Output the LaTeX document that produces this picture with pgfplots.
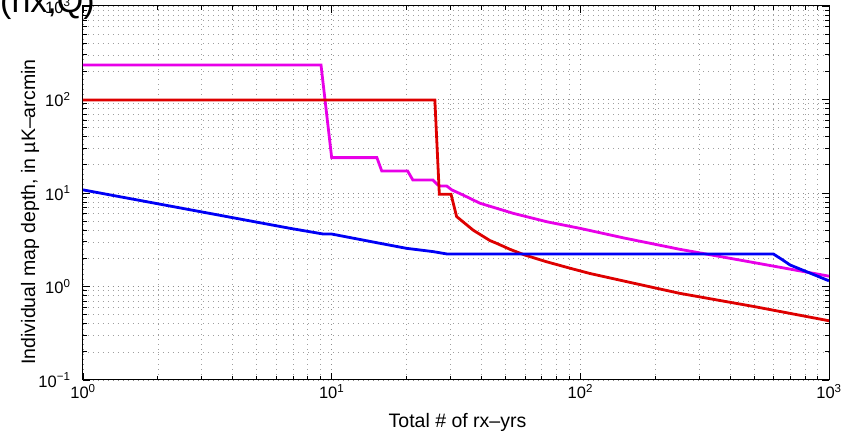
\documentclass[border=0pt]{standalone}
\usepackage{pgfplots}
\pgfplotsset{compat=1.18}
\usepackage{fontspec}
\setmainfont{Liberation Sans}
\definecolor{mymag}{RGB}{232,0,232}
\definecolor{myred}{RGB}{222,0,0}
\definecolor{myblue}{RGB}{0,0,245}
\begin{document}
\begin{tikzpicture}[x=1pt,y=1pt]
\begin{axis}[
  at={(0,0)}, anchor=south west,
  scale only axis, width=746pt, height=374pt,
  xmode=log, ymode=log,
  xmin=1, xmax=1000, ymin=0.1, ymax=1000,
  xtick={1,10,100,1000},
  xticklabels={10\textsuperscript{0},10\textsuperscript{1},10\textsuperscript{2},10\textsuperscript{3}},
  ytick={0.1,1,10,100,1000},
  yticklabels={10\textsuperscript{−1},10\textsuperscript{0},10\textsuperscript{1},10\textsuperscript{2},10\textsuperscript{3}},
  tick label style={font=\fontsize{16.5}{18}\selectfont},
  yticklabel style={xshift=-9pt},
  xticklabel style={yshift=-1pt},
  grid=both,
  major grid style={gray!90, line width=0.7pt, dash pattern=on 0.7pt off 4.3pt},
  minor grid style={gray!75, line width=0.7pt, dash pattern=on 0.7pt off 4.3pt},
  tick align=inside,
  major tick length=7pt, minor tick length=4pt,
  axis line style={line width=1pt},
  every tick/.style={black, line width=0.8pt},
]
\addplot[mymag, line width=2.8pt] coordinates {
(1,234) (9.06,234) (10,23.9) (15.2,23.9) (15.9,17.2) (20.2,17.2) (21.2,13.8) (25.5,13.8)
(27,11.9) (29,11.9) (30.4,10.8) (33.8,9.5) (39.5,7.77) (53.6,6.07) (73.2,4.93) (99.6,4.19)
(150,3.3) (251,2.5) (500,1.8) (1000,1.29)};
\addplot[myred, line width=2.8pt] coordinates {
(1,99) (26,99) (27.1,9.7) (30.2,9.7) (31.8,5.6) (33.8,4.9) (37.1,4.0) (43.3,3.1) (46,2.9)
(52.1,2.5) (59.8,2.17) (73.1,1.84) (90.8,1.57) (109,1.38) (160,1.1) (251,0.845) (500,0.61) (1000,0.43)};
\addplot[myblue, line width=2.8pt] coordinates {
(1,10.8) (6.8,4.19) (9.25,3.64) (10,3.64) (15.6,2.9) (20,2.56) (25.6,2.36) (29,2.23)
(597,2.23) (650,1.93) (697,1.70) (1000,1.15)};
\end{axis}
\node[anchor=base, font=\fontsize{19.5}{22}\selectfont] at (374.5,-48) {Total \# of rx–yrs};
\node[rotate=90, anchor=center, font=\fontsize{19.5}{22}\selectfont] at (-53,168) {Individual map depth, in µK–arcmin};
\node[anchor=base west, inner sep=0pt, font=\fontsize{34}{38}\selectfont] at (-83,367) {(nx,Q)};
\pgfresetboundingbox
\path[use as bounding box] (-83,-53) rectangle (763,380);
\end{tikzpicture}
\end{document}
